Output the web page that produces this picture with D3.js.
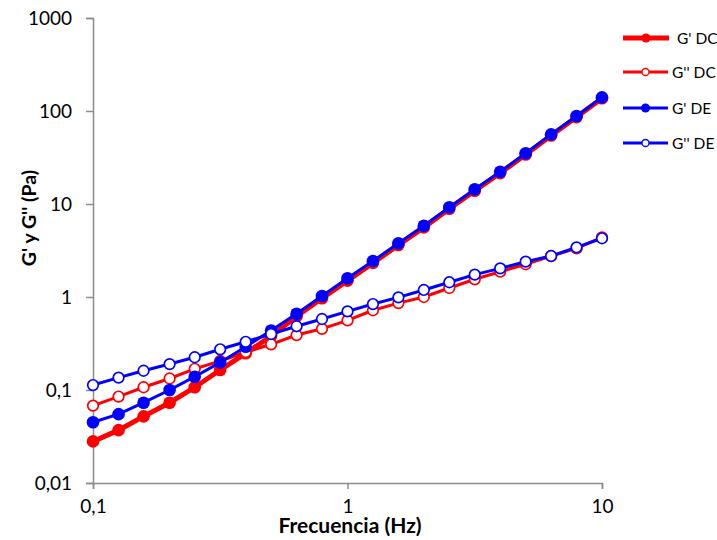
<!DOCTYPE html>
<html>
<head>
<meta charset="utf-8">
<script src="https://cdn.jsdelivr.net/npm/d3@7"></script>
<style>
  body { margin: 0; background: #fff; }
  text { font-family: Lato, "Open Sans", sans-serif; }
</style>
</head>
<body>
<div id="chart"></div>
<script>
const width = 717;
const height = 540;
const margin = { top: 18, right: 115, bottom: 57, left: 93 };

// frequency (Hz)
const freq = [0.1, 0.126, 0.158, 0.2, 0.251, 0.316, 0.398, 0.501, 0.631, 0.794, 1,
  1.259, 1.585, 1.995, 2.512, 3.162, 3.981, 5.012, 6.31, 7.943, 10];
// moduli (Pa)
const gpDC = [0.028, 0.037, 0.052, 0.073, 0.107, 0.164, 0.248, 0.38, 0.62, 0.97, 1.5,
  2.33, 3.62, 5.6, 8.9, 13.9, 21.5, 34, 54.5, 86, 137];
const gppDC = [0.068, 0.085, 0.107, 0.133, 0.169, 0.205, 0.255, 0.31, 0.39, 0.455, 0.56,
  0.72, 0.86, 1.0, 1.25, 1.55, 1.87, 2.25, 2.75, 3.34, 4.38];
const gpDE = [0.045, 0.055, 0.073, 0.1, 0.139, 0.198, 0.292, 0.437, 0.66, 1.025, 1.59,
  2.44, 3.78, 5.84, 9.21, 14.4, 22.2, 35.1, 56.1, 88.3, 140];
const gppDE = [0.113, 0.136, 0.161, 0.19, 0.225, 0.274, 0.33, 0.40, 0.485, 0.58, 0.70,
  0.84, 0.99, 1.19, 1.44, 1.74, 2.03, 2.4, 2.76, 3.42, 4.28];

const xTicks = [0.1, 1, 10];
const xTickLabels = ["0,1", "1", "10"];
const yTicks = [0.01, 0.1, 1, 10, 100, 1000];
const yTickLabels = ["0,01", "0,1", "1", "10", "100", "1000"];

const series = [
  { name: "G' DC", values: gpDC, color: "#ff0000", filled: true, lw: 5 },
  { name: "G'' DC", values: gppDC, color: "#ff0000", filled: false, lw: 3 },
  { name: "G' DE", values: gpDE, color: "#0000ff", filled: true, lw: 3 },
  { name: "G'' DE", values: gppDE, color: "#0000ff", filled: false, lw: 3 }
];

const x = d3.scaleLog().domain([0.1, 10]).range([margin.left, width - margin.right]);
const y = d3.scaleLog().domain([0.01, 1000]).range([height - margin.bottom, margin.top]);

const svg = d3.select("#chart").append("svg")
  .attr("width", width)
  .attr("height", height);

const axisColor = "#8c8c8c";

// y axis
const yAxis = svg.append("g")
  .attr("transform", `translate(${margin.left},0)`)
  .call(d3.axisLeft(y).tickValues(yTicks).tickFormat((d, i) => yTickLabels[i]).tickSize(7).tickPadding(14));
yAxis.select(".domain").attr("stroke", axisColor).attr("stroke-width", 1.5);
yAxis.selectAll(".tick line").attr("stroke", axisColor).attr("stroke-width", 1.5);
yAxis.selectAll(".tick text")
  .attr("fill", "#000")
  .style("font-size", "19px")
  .style("font-family", "Lato, sans-serif");

// x axis
const xAxis = svg.append("g")
  .attr("transform", `translate(0,${height - margin.bottom})`)
  .call(d3.axisBottom(x).tickValues(xTicks).tickFormat((d, i) => xTickLabels[i]).tickSize(6).tickPadding(11));
xAxis.select(".domain").attr("stroke", axisColor).attr("stroke-width", 1.5);
xAxis.selectAll(".tick line").attr("stroke", axisColor).attr("stroke-width", 1.5);
xAxis.selectAll(".tick text")
  .attr("fill", "#000")
  .style("font-size", "19px")
  .style("font-family", "Lato, sans-serif");

// axis titles
svg.append("text")
  .attr("x", 350)
  .attr("y", 533)
  .attr("text-anchor", "middle")
  .style("font-size", "21px")
  .style("font-weight", "bold")
  .text("Frecuencia (Hz)");

svg.append("text")
  .attr("transform", "translate(36,218) rotate(-90)")
  .attr("text-anchor", "middle")
  .style("font-size", "19.5px")
  .style("font-weight", "bold")
  .text("G' y G'' (Pa)");

// series
const line = d3.line()
  .x((d, i) => x(freq[i]))
  .y(d => y(d));

series.forEach(s => {
  const g = svg.append("g");
  g.append("path")
    .datum(s.values)
    .attr("fill", "none")
    .attr("stroke", s.color)
    .attr("stroke-width", s.lw)
    .attr("d", line);
  g.selectAll("circle")
    .data(s.values)
    .join("circle")
    .attr("cx", (d, i) => x(freq[i]))
    .attr("cy", d => y(d))
    .attr("r", s.filled ? 6.3 : 5.3)
    .attr("fill", s.filled ? s.color : "#fff")
    .attr("stroke", s.color)
    .attr("stroke-width", s.filled ? 0 : 1.7);
});

// legend
const legendY = [38, 72, 108, 143];
const legend = svg.append("g");
series.forEach((s, i) => {
  const gl = legend.append("g").attr("transform", `translate(623,${legendY[i]})`);
  const len = i === 0 ? 46 : 45;
  gl.append("line")
    .attr("x1", 0).attr("x2", len)
    .attr("stroke", s.color)
    .attr("stroke-width", s.lw);
  gl.append("circle")
    .attr("cx", len / 2)
    .attr("r", s.filled ? 4.5 : 3.5)
    .attr("fill", s.filled ? s.color : "#fff")
    .attr("stroke", s.color)
    .attr("stroke-width", s.filled ? 0 : 1.3);
  gl.append("text")
    .attr("x", i === 0 ? 54 : 49)
    .attr("dy", "0.36em")
    .style("font-size", "15.5px")
    .text(s.name);
});
</script>
</body>
</html>
